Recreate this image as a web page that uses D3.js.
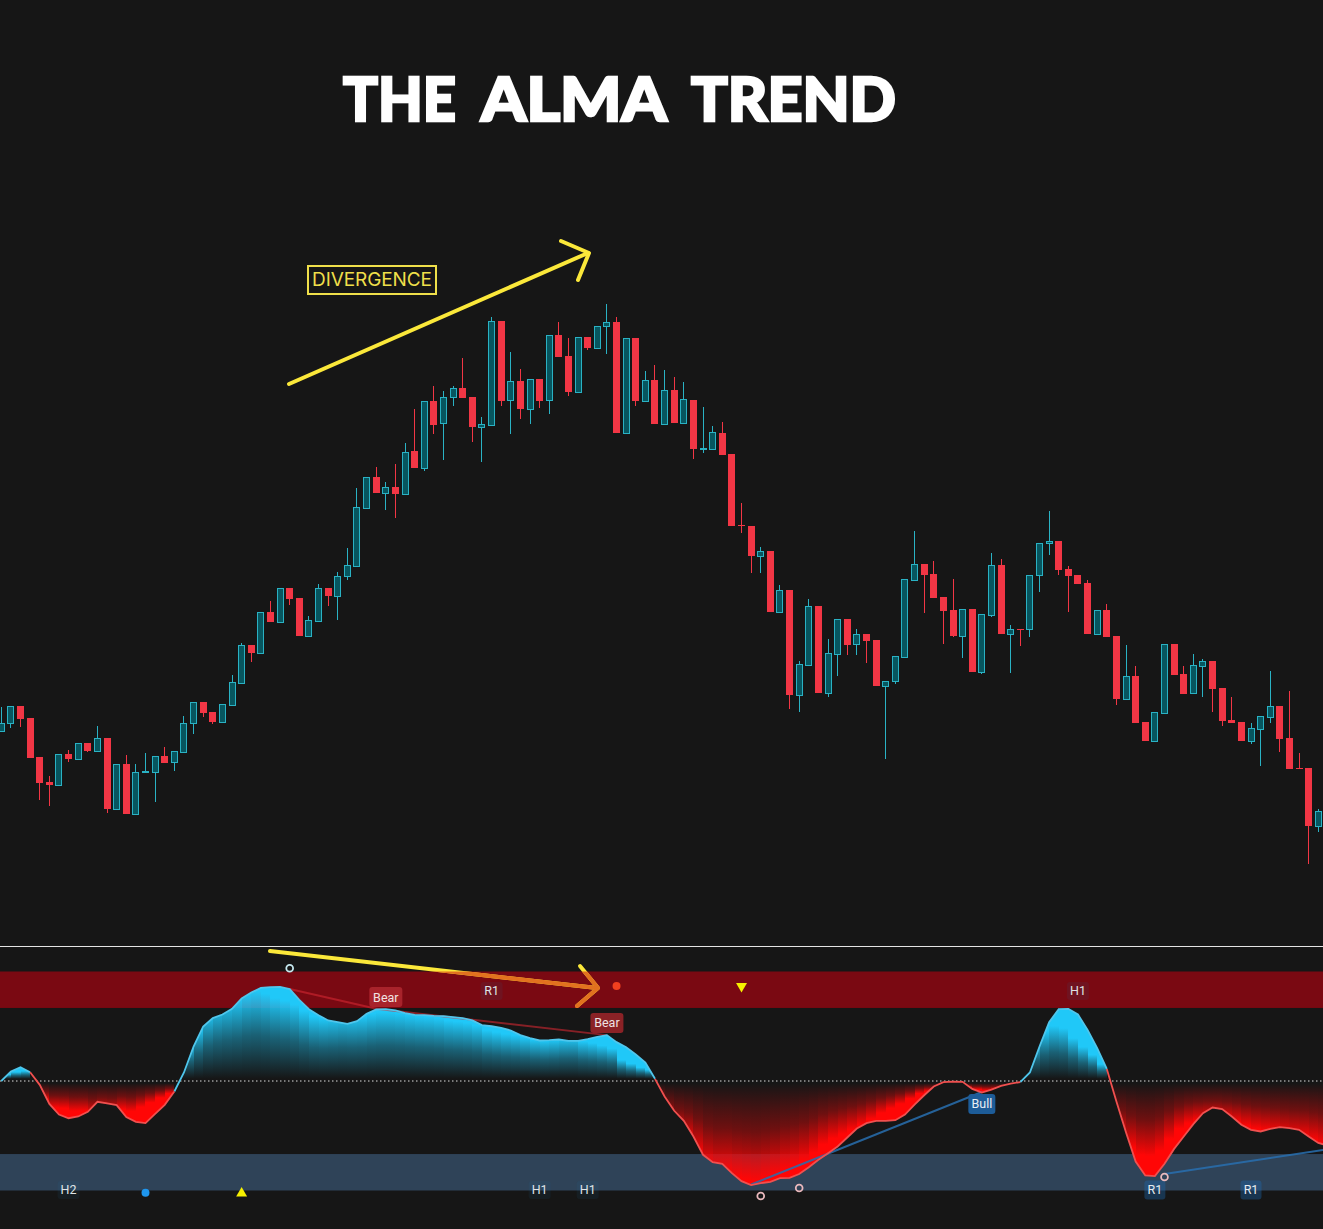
<!DOCTYPE html>
<html>
<head>
<meta charset="utf-8">
<title>The ALMA Trend</title>
<script src="https://cdn.jsdelivr.net/npm/d3@7"></script>
<style>
  html, body { margin: 0; padding: 0; background: #161616; overflow: hidden; }
  svg { display: block; }
</style>
</head>
<body>
<div id="chart"></div>
<script>
// Candles, one entry per bar, price in chart points
const opens = [269,277,294,282,243,218,215,246,241,257,
  249,262,191,236,186,228,228,244,238,248,
  277,298,288,278,295,317,355,347,388,378,
  412,402,364,379,412,404,424,434,492,523,
  507,513,506,549,532,599,577,603,612,603,
  573,575,679,600,619,591,621,600,665,644,
  608,663,652,674,678,567,662,599,620,576,
  610,577,600,551,551,567,546,475,474,444,
  449,388,410,305,335,394,307,346,381,356,
  366,360,314,319,343,420,436,426,403,390,
  364,391,328,385,435,366,371,371,425,457,
  459,431,425,417,366,390,364,301,324,278,
  259,287,356,326,307,334,339,312,280,278,
  259,271,283,294,262,232,232,174];
const highs = [293,294,294,282,243,224,246,250,257,257,
  274,262,236,245,236,247,244,253,249,284,
  298,298,288,296,325,357,355,388,399,412,
  412,402,384,416,412,428,452,512,523,533,
  518,536,557,591,599,614,609,614,642,603,
  583,683,679,648,631,621,621,665,678,662,
  663,663,674,696,683,662,662,629,635,630,
  623,618,600,593,574,578,546,497,474,453,
  449,415,410,339,401,394,361,381,381,371,
  366,360,319,344,421,469,436,439,403,421,
  391,391,386,447,441,375,371,425,457,489,
  459,434,425,420,390,396,364,355,334,278,
  288,356,356,334,346,341,339,312,303,278,
  277,284,329,294,309,247,232,191];
const lows = [269,272,273,242,200,194,215,238,241,248,
  249,187,191,186,186,228,198,237,229,248,
  266,283,276,278,295,317,338,347,378,378,
  395,364,364,379,394,380,420,434,492,507,
  490,482,506,532,529,566,540,594,602,558,
  538,575,594,566,581,576,592,586,643,604,
  608,650,652,646,567,567,594,599,576,576,
  577,577,541,547,551,545,474,467,427,427,
  388,388,291,288,335,307,303,324,345,345,
  337,314,241,316,343,420,387,402,356,363,
  342,328,326,383,366,327,354,363,408,445,
  425,388,416,366,366,363,295,301,277,259,
  259,287,325,306,307,303,288,274,277,259,
  256,234,277,248,231,231,136,168];
const closes = [277,294,281,242,217,215,246,241,257,249,
  262,191,236,186,228,229,244,237,249,277,
  298,287,278,296,318,355,347,388,378,412,
  401,364,380,412,404,424,435,493,523,507,
  513,506,548,532,599,575,603,612,602,573,
  576,679,599,619,591,621,599,665,643,608,
  663,652,674,678,567,662,599,620,576,610,
  577,601,551,552,568,545,474,474,444,449,
  388,410,305,336,394,307,347,381,355,366,
  359,314,319,344,421,436,425,402,389,364,
  391,328,386,435,366,371,370,425,457,459,
  430,424,416,366,390,363,301,324,277,259,
  288,356,325,306,335,339,311,279,277,259,
  272,284,294,261,231,231,174,189];

// Oscillator, one entry per bar, -100 to 100 (the last one sits just past the edge)
const oscillator = [0,8.7,12.6,8,-3.5,-20.9,-30.6,-34,-32.4,-28.2,
  -19,-20.5,-22,-33,-37.3,-38.5,-30,-21.8,-9.6,7.8,
  31.5,49.8,57.4,60.7,65.9,75.3,80.8,85,85.7,86,
  83.9,74.1,65.6,60.1,55.3,53.7,52.2,54.6,61.3,65.3,
  65.6,64.4,61.9,60.4,60.1,59.5,59.2,58.3,57.4,55.3,
  51,50,48.6,46.1,41.9,39.1,37,37.3,37.9,36.7,
  36.7,38.2,40.3,41.9,35.5,30.9,24.2,16.9,2,-14.2,
  -27.2,-36.4,-50.7,-67.4,-74.1,-75.6,-84.2,-91.5,-95.1,-93.3,
  -92.1,-88.7,-88.4,-85,-78.7,-72,-65.9,-59.8,-51.6,-43.4,
  -38.5,-36.4,-36.4,-35.8,-30.6,-21.5,-13,-5,-1,-0.5,
  -0.8,-7.2,-10.5,-7.8,-4.4,-2.3,-1,7.8,31.5,53.7,
  65.6,65.9,60.7,46.7,30,11,-18.7,-47,-73.5,-86.3,
  -86.9,-75.6,-62,-50.7,-39.4,-29.4,-24.2,-25.7,-32.4,-40,
  -44.6,-46.1,-43.7,-42.2,-43,-44.6,-50.7,-56.6,-59];

// Bar ranges where the oscillator is bullish / bearish
const bullRuns = [[0, 3], [18, 68], [106, 115]];
const bearRuns = [[3, 18], [68, 106], [115, 138]];

// Zone limits on the oscillator
const zoneUpper = [66.7, 100];
const zoneLower = [-100, -66.7];

// Labels on the oscillator
const tagTexts = ["H2", "H1", "H1", "R1", "H1", "R1", "R1", "Bear", "Bear", "Bull"];
const tagBars = [7, 56, 61, 51, 112, 120, 130, 40, 63, 102];
const tagValues = [-99.5, -99.5, -99.5, 82.2, 82.2, -99.5, -99.5, 76.7, 53, -21];
const tagKinds = ["faint", "faint", "faint", "faint", "faint", "bull", "bull", "bear", "bearDim", "bullStrong"];

// Small signal markers
const ringBars = [30, 79, 83, 121];
const ringValues = [103, -105, -97.7, -87.7];
const ringKinds = ["bull", "bear", "bear", "bear"];

// Divergence lines as [bar, value, bar, value]
const bearDivergence = [[30, 84, 39, 66], [39, 66, 63, 41.9]];
const bullDivergence = [[78, -94.5, 102, -10], [121, -85, 137.5, -63]];

// Title words
const titleWords = ["THE", "ALMA", "TREND"];

const width = 1323, height = 1229;
const bg = "#161616";
const candleRed = "#f23645", tealFill = "#07565f", tealLine = "#2ab2c4";

const svg = d3.select("#chart").append("svg")
    .attr("width", width)
    .attr("height", height)
    .style("font-family", "Roboto, sans-serif");

svg.append("rect").attr("width", width).attr("height", height).attr("fill", bg);

const defs = svg.append("defs");

const x = d3.scaleLinear().domain([0, 137]).range([1.3, 1318.3]);
const yPrice = d3.scaleLinear().domain([0, 1000]).range([1000, 0]);
const yOsc = d3.scaleLinear().domain([-100, 100]).range([1190.5, 971.5]);

drawTitle();
drawCandles();
drawOscillator();
drawTags();
drawArrows();

function drawTitle() {
    const wordLeft = [342, 480, 690];
    const wordWidth = [115, 188, 207];

    titleWords.forEach((w, i) => {
        svg.append("text")
            .attr("x", wordLeft[i] + 1)
            .attr("y", 121)
            .attr("textLength", wordWidth[i] - 2)
            .attr("lengthAdjust", "spacingAndGlyphs")
            .attr("fill", "#ffffff")
            .attr("stroke", "#ffffff")
            .attr("stroke-width", 2.4)
            .attr("stroke-linejoin", "miter")
            .style("font-family", "Lato, sans-serif")
            .style("font-weight", 900)
            .style("font-size", "60px")
            .text(w);
    });

    svg.append("rect")
        .attr("x", 308).attr("y", 266)
        .attr("width", 128).attr("height", 28)
        .attr("fill", "none")
        .attr("stroke", "#efdf4a")
        .attr("stroke-width", 2);

    svg.append("text")
        .attr("x", 312)
        .attr("y", 286)
        .attr("textLength", 120)
        .attr("fill", "#efdf4a")
        .style("font-family", "Inter, sans-serif")
        .style("font-size", "19px")
        .text("DIVERGENCE");
}

function drawCandles() {
    const bars = d3.range(opens.length);
    const isUp = i => closes[i] >= opens[i];
    const cx = i => Math.floor(x(i)) + 0.5; // keep bodies on whole pixels

    const g = svg.append("g").attr("class", "candles");

    g.selectAll(".wick")
        .data(bars)
        .enter().append("line")
        .attr("class", "wick")
        .attr("x1", cx).attr("x2", cx)
        .attr("y1", i => yPrice(highs[i]))
        .attr("y2", i => yPrice(lows[i]))
        .attr("stroke", i => isUp(i) ? tealLine : candleRed)
        .attr("stroke-width", 1);

    g.selectAll(".body")
        .data(bars)
        .enter().append("rect")
        .attr("class", "body")
        .attr("x", i => cx(i) - (isUp(i) ? 3 : 3.5))
        .attr("width", i => isUp(i) ? 6 : 7)
        .attr("y", i => yPrice(Math.max(opens[i], closes[i])) + (isUp(i) ? 0.5 : 0))
        .attr("height", i => Math.max(1, Math.abs(opens[i] - closes[i])))
        .attr("fill", i => isUp(i) ? tealFill : candleRed)
        .attr("stroke", i => isUp(i) ? tealLine : "none")
        .attr("stroke-width", 1);

    // Pane separator
    svg.append("line")
        .attr("x1", 0).attr("x2", width)
        .attr("y1", 946.5).attr("y2", 946.5)
        .attr("stroke", "#e4e4e4")
        .attr("stroke-width", 1);
}

function isBull(i) {
    return bullRuns.some(r => i >= r[0] && i < r[1]);
}

function drawOscillator() {
    // Overbought / oversold zones
    svg.append("rect")
        .attr("x", 0).attr("width", width)
        .attr("y", yOsc(zoneUpper[1]))
        .attr("height", yOsc(zoneUpper[0]) - yOsc(zoneUpper[1]))
        .attr("fill", "#7a0912");
    svg.append("rect")
        .attr("x", 0).attr("width", width)
        .attr("y", yOsc(zoneLower[1]))
        .attr("height", yOsc(zoneLower[0]) - yOsc(zoneLower[1]))
        .attr("fill", "#2f4358");

    // Area between line and zero, used to clip the gradient columns
    const area = d3.area()
        .x((d, i) => x(i))
        .y0(yOsc(0))
        .y1(d => yOsc(d));

    defs.append("clipPath").attr("id", "osc-area")
        .append("path").attr("d", area(oscillator));
    defs.append("clipPath").attr("id", "above-zero")
        .append("rect").attr("x", 0).attr("width", width)
        .attr("y", 900).attr("height", yOsc(1.5) - 900);
    defs.append("clipPath").attr("id", "below-zero")
        .append("rect").attr("x", 0).attr("width", width)
        .attr("y", yOsc(-2)).attr("height", 300);

    const upper = svg.append("g").attr("clip-path", "url(#above-zero)")
        .append("g").attr("clip-path", "url(#osc-area)");
    const lower = svg.append("g").attr("clip-path", "url(#below-zero)")
        .append("g").attr("clip-path", "url(#osc-area)");

    // One column per bar, each fades from the zero line towards a level
    // taken a few bars ahead, so columns before a shrink look brighter
    const lookAhead = 4;
    d3.range(oscillator.length - 1).forEach(i => {
        const bull = isBull(i);
        const ahead = oscillator[Math.min(i + lookAhead, oscillator.length - 1)];
        const own = Math.abs(oscillator[i]);
        const sign = bull ? 1 : -1;
        const ref = Math.max(8, 0.35 * own + 0.65 * Math.max(0, sign * ahead));
        const level = sign * (ref + (own - ref) * 0.25);
        const id = "col-" + i;
        const color = bull ? "#20c8f8" : "#ff0606";

        const grad = defs.append("linearGradient")
            .attr("id", id)
            .attr("gradientUnits", "userSpaceOnUse")
            .attr("x1", 0).attr("x2", 0)
            .attr("y1", yOsc(sign * 2))
            .attr("y2", yOsc(level));
        grad.append("stop").attr("offset", 0).attr("stop-color", color).attr("stop-opacity", 0);
        grad.append("stop").attr("offset", 0.5).attr("stop-color", color).attr("stop-opacity", bull ? 0.42 : 0.38);
        grad.append("stop").attr("offset", 1).attr("stop-color", color).attr("stop-opacity", 1);

        // whole pixel edges so neighbouring columns do not double up
        const left = Math.round(x(i));
        (bull ? upper : lower).append("rect")
            .attr("x", left)
            .attr("width", Math.round(x(i + 1)) - left)
            .attr("y", 960)
            .attr("height", 240)
            .attr("shape-rendering", "crispEdges")
            .attr("fill", "url(#" + id + ")");
    });

    // Zero line
    svg.append("line")
        .attr("x1", 0).attr("x2", width)
        .attr("y1", yOsc(0)).attr("y2", yOsc(0))
        .attr("stroke", "#dddddd")
        .attr("stroke-width", 1)
        .attr("stroke-dasharray", "1.5,2.5");

    // Divergence lines sit under the oscillator line
    bearDivergence.forEach(d => {
        svg.append("line")
            .attr("x1", x(d[0])).attr("y1", yOsc(d[1]))
            .attr("x2", x(d[2])).attr("y2", yOsc(d[3]))
            .attr("stroke", "rgba(210,40,50,0.6)")
            .attr("stroke-width", 2);
    });
    bullDivergence.forEach(d => {
        svg.append("line")
            .attr("x1", x(d[0])).attr("y1", yOsc(d[1]))
            .attr("x2", x(d[2])).attr("y2", yOsc(d[3]))
            .attr("stroke", "rgba(40,110,175,0.85)")
            .attr("stroke-width", 2);
    });

    const line = d3.line()
        .x(i => x(i))
        .y(i => yOsc(oscillator[i]));

    bullRuns.forEach(r => {
        svg.append("path")
            .attr("d", line(d3.range(r[0], r[1] + 1)))
            .attr("fill", "none")
            .attr("stroke", "#4fc6ec")
            .attr("stroke-width", 1.8);
    });
    bearRuns.forEach(r => {
        svg.append("path")
            .attr("d", line(d3.range(r[0], r[1] + 1)))
            .attr("fill", "none")
            .attr("stroke", "#f0504f")
            .attr("stroke-width", 1.8);
    });
}

function drawTags() {
    const tagStyles = {
        faint: {fill: "rgba(33,110,160,0.10)", color: "#dfe3e6", w: 22, h: 18},
        bull: {fill: "rgba(30,105,175,0.38)", color: "#e6ebef", w: 21, h: 19},
        bear: {fill: "#a8232b", color: "#f1e3e3", w: 33, h: 20},
        bearDim: {fill: "#8b2226", color: "#efe2e2", w: 33, h: 20},
        bullStrong: {fill: "#1d5c98", color: "#e8eef4", w: 27, h: 20}
    };

    tagTexts.forEach((t, i) => {
        const s = tagStyles[tagKinds[i]];
        const cx = x(tagBars[i]), cy = yOsc(tagValues[i]);
        svg.append("rect")
            .attr("x", cx - s.w / 2).attr("y", cy - s.h / 2)
            .attr("width", s.w).attr("height", s.h)
            .attr("rx", 3)
            .attr("fill", s.fill);
        svg.append("text")
            .attr("x", cx).attr("y", cy + 4.5)
            .attr("text-anchor", "middle")
            .attr("fill", s.color)
            .style("font-size", "12.5px")
            .text(t);
    });

    // Open rings
    ringBars.forEach((b, i) => {
        svg.append("circle")
            .attr("cx", x(b)).attr("cy", yOsc(ringValues[i]))
            .attr("r", 3.4)
            .attr("fill", "none")
            .attr("stroke", ringKinds[i] === "bull" ? "#c5e8ef" : "#eab9bd")
            .attr("stroke-width", 1.8);
    });

    // Dots and triangles
    svg.append("circle").attr("cx", x(15)).attr("cy", yOsc(-102)).attr("r", 4).attr("fill", "#1e96ee");
    svg.append("circle").attr("cx", x(64)).attr("cy", yOsc(86.8)).attr("r", 4).attr("fill", "#f2401f");

    const tri = d3.symbol().type(d3.symbolTriangle).size(52);
    svg.append("path").attr("d", tri())
        .attr("transform", `translate(${x(25)},${yOsc(-102.5)})`)
        .attr("fill", "#f7f000");
    svg.append("path").attr("d", tri())
        .attr("transform", `translate(${x(77)},${yOsc(86.5)}) rotate(180)`)
        .attr("fill", "#f7f000");
}

function drawArrows() {
    const yellow = "#fbe83a";
    const arrow = (g, color, pts) => {
        pts.forEach(p => {
            g.append("path")
                .attr("d", d3.line()(p))
                .attr("fill", "none")
                .attr("stroke", color)
                .attr("stroke-width", 4)
                .attr("stroke-linecap", "round")
                .attr("stroke-linejoin", "round");
        });
    };

    // Hand drawn arrow over price
    arrow(svg.append("g"), yellow, [
        [[289, 384], [588, 253]],
        [[561, 241], [589, 253], [578, 280]]
    ]);

    // Hand drawn arrow over the oscillator, turns orange on the red zone
    const lowerArrow = [
        [[270, 951], [597, 988]],
        [[580, 966], [598, 988], [577, 1006]]
    ];
    arrow(svg.append("g"), yellow, lowerArrow);

    defs.append("clipPath").attr("id", "red-zone")
        .append("rect").attr("x", 0).attr("width", width)
        .attr("y", yOsc(zoneUpper[1]))
        .attr("height", yOsc(zoneUpper[0]) - yOsc(zoneUpper[1]));
    arrow(svg.append("g").attr("clip-path", "url(#red-zone)"), "#e2711f", lowerArrow);
}
</script>
</body>
</html>
